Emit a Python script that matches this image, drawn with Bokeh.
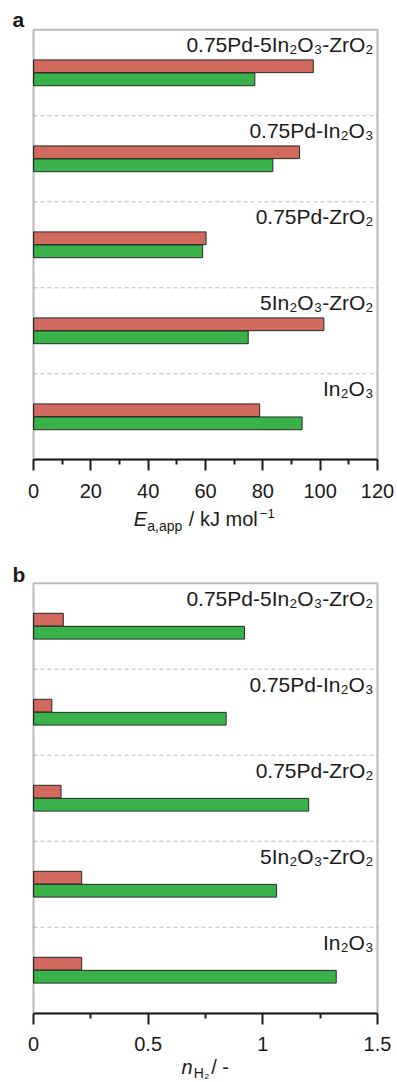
import numpy as np
from bokeh.plotting import figure
from bokeh.models import Range1d, FixedTicker, Label, LinearAxis, BoxAnnotation
from bokeh.layouts import column
from bokeh.embed import file_html
from bokeh.resources import INLINE
from bokeh.core.properties import value

# ---------------- data (bottom category first) ----------------
categories = ["In₂O₃", "5In₂O₃-ZrO₂", "0.75Pd-ZrO₂", "0.75Pd-In₂O₃", "0.75Pd-5In₂O₃-ZrO₂"]
ea_red = [78.9, 101.3, 60.2, 92.8, 97.6]
ea_green = [93.7, 74.9, 59.0, 83.5, 77.2]
nh2_red = [0.21, 0.21, 0.12, 0.08, 0.13]
nh2_green = [1.32, 1.06, 1.20, 0.84, 0.92]
ea_ticks = [0, 20, 40, 60, 80, 100, 120]
ea_minor = [10, 30, 50, 70, 90, 110]
nh2_ticks = [0.0, 0.5, 1.0, 1.5]
nh2_minor = [0.25, 0.75, 1.25]

RED = "#D2695F"
GREEN = "#39B24A"
EDGE = "#2a2a2a"
FONT = "Liberation Sans"
INK = "#1a1a1a"

W = 395            # canvas width
BOX_L = 33         # box left edge in canvas px
BOX_W = 344        # box width px
BOX_H = 430        # box height px
MID = 0.3465       # em-box centre above the baseline (fraction of font size)
CAT_SIZE = 21


def make_panel(red, green, ticks, minor, letter, letter_base, title_parts, H, box_t):
    n = len(categories)
    ypos = np.arange(n, dtype=float)
    xmax = ticks[-1]
    band = BOX_H / n

    def dx(px):
        return (px - BOX_L) / BOX_W * xmax

    def dy(py):
        return (n - 0.5) - (py - box_t) / band

    p = figure(width=W, height=H, output_backend="svg", toolbar_location=None,
               title=None, x_axis_location=None, y_axis_location=None,
               x_range=Range1d(dx(0), dx(W)), y_range=Range1d(dy(H), dy(0)),
               min_border=0)
    p.xgrid.visible = False
    p.ygrid.visible = False
    p.outline_line_color = None
    p.background_fill_color = "white"
    p.border_fill_color = "white"

    # dashed separators between categories
    sep = ypos[:-1] + 0.5
    p.segment(x0=0, x1=xmax, y0=sep, y1=sep, line_color="#bdbdbd",
              line_width=1, line_dash="4 3")

    p.hbar(y=ypos + 0.076, left=0, right=red, height=0.148,
           fill_color=RED, line_color=EDGE, line_width=1)
    p.hbar(y=ypos - 0.076, left=0, right=green, height=0.148,
           fill_color=GREEN, line_color=EDGE, line_width=1)

    p.text(x=[xmax] * n, y=ypos, text=categories, x_offset=-4,
           y_offset=-(20.6 + MID * CAT_SIZE),
           text_align="right", text_baseline="middle",
           text_font=value(FONT), text_font_size=f"{CAT_SIZE}px", text_color=INK)

    # plot box
    p.add_layout(BoxAnnotation(left=0, right=xmax, bottom=-0.5, top=n - 0.5,
                               fill_color=None, line_color=INK, line_width=2))

    ax = LinearAxis(fixed_location=-0.5, bounds=(0, xmax),
                    ticker=FixedTicker(ticks=ticks, minor_ticks=minor))
    ax.axis_line_color = INK
    ax.axis_line_width = 2
    ax.major_tick_line_color = INK
    ax.major_tick_line_width = 2
    ax.minor_tick_line_color = INK
    ax.minor_tick_line_width = 2
    ax.major_tick_in = 0
    ax.major_tick_out = 11
    ax.minor_tick_in = 0
    ax.minor_tick_out = 5
    ax.major_label_standoff = 13
    ax.major_label_text_font = FONT
    ax.major_label_text_font_size = "20px"
    ax.major_label_text_color = INK
    p.add_layout(ax, "below")

    p.add_layout(Label(x=dx(12), y=dy(letter_base - MID * 21), text=letter,
                       text_font=FONT, text_font_size="21px", text_font_style="bold",
                       text_color=INK, text_baseline="middle", text_align="left"))

    for txt, px, base, size, style in title_parts:
        p.add_layout(Label(x=dx(px), y=dy(base - MID * size), text=txt,
                           text_font=FONT, text_font_size=f"{size}px", text_font_style=style,
                           text_color=INK, text_baseline="middle", text_align="left"))
    return p


# title pieces: text, left px, baseline px (canvas coordinates), size, style
title_a = [("E", 133.3, 525.7, 20, "italic"),
           ("a,app", 146.7, 530.0, 14, "normal"),
           ("/ kJ mol", 188.3, 525.7, 20, "normal"),
           ("−1", 259.3, 517.3, 13, "normal")]
title_b = [("n", 181.0, 511.0, 20, "italic"),
           ("H₂", 193.3, 515.0, 14, "normal"),
           ("/ -", 210.7, 511.0, 20, "normal")]

pa = make_panel(ea_red, ea_green, ea_ticks, ea_minor, "a", 26.7, title_a, 562, 29.3)
pb = make_panel(nh2_red, nh2_green, nh2_ticks, nh2_minor, "b", 19.7, title_b, 518, 20.7)

layout = column(pa, pb, spacing=0)
open("out.html", "w").write(file_html(layout, INLINE))
